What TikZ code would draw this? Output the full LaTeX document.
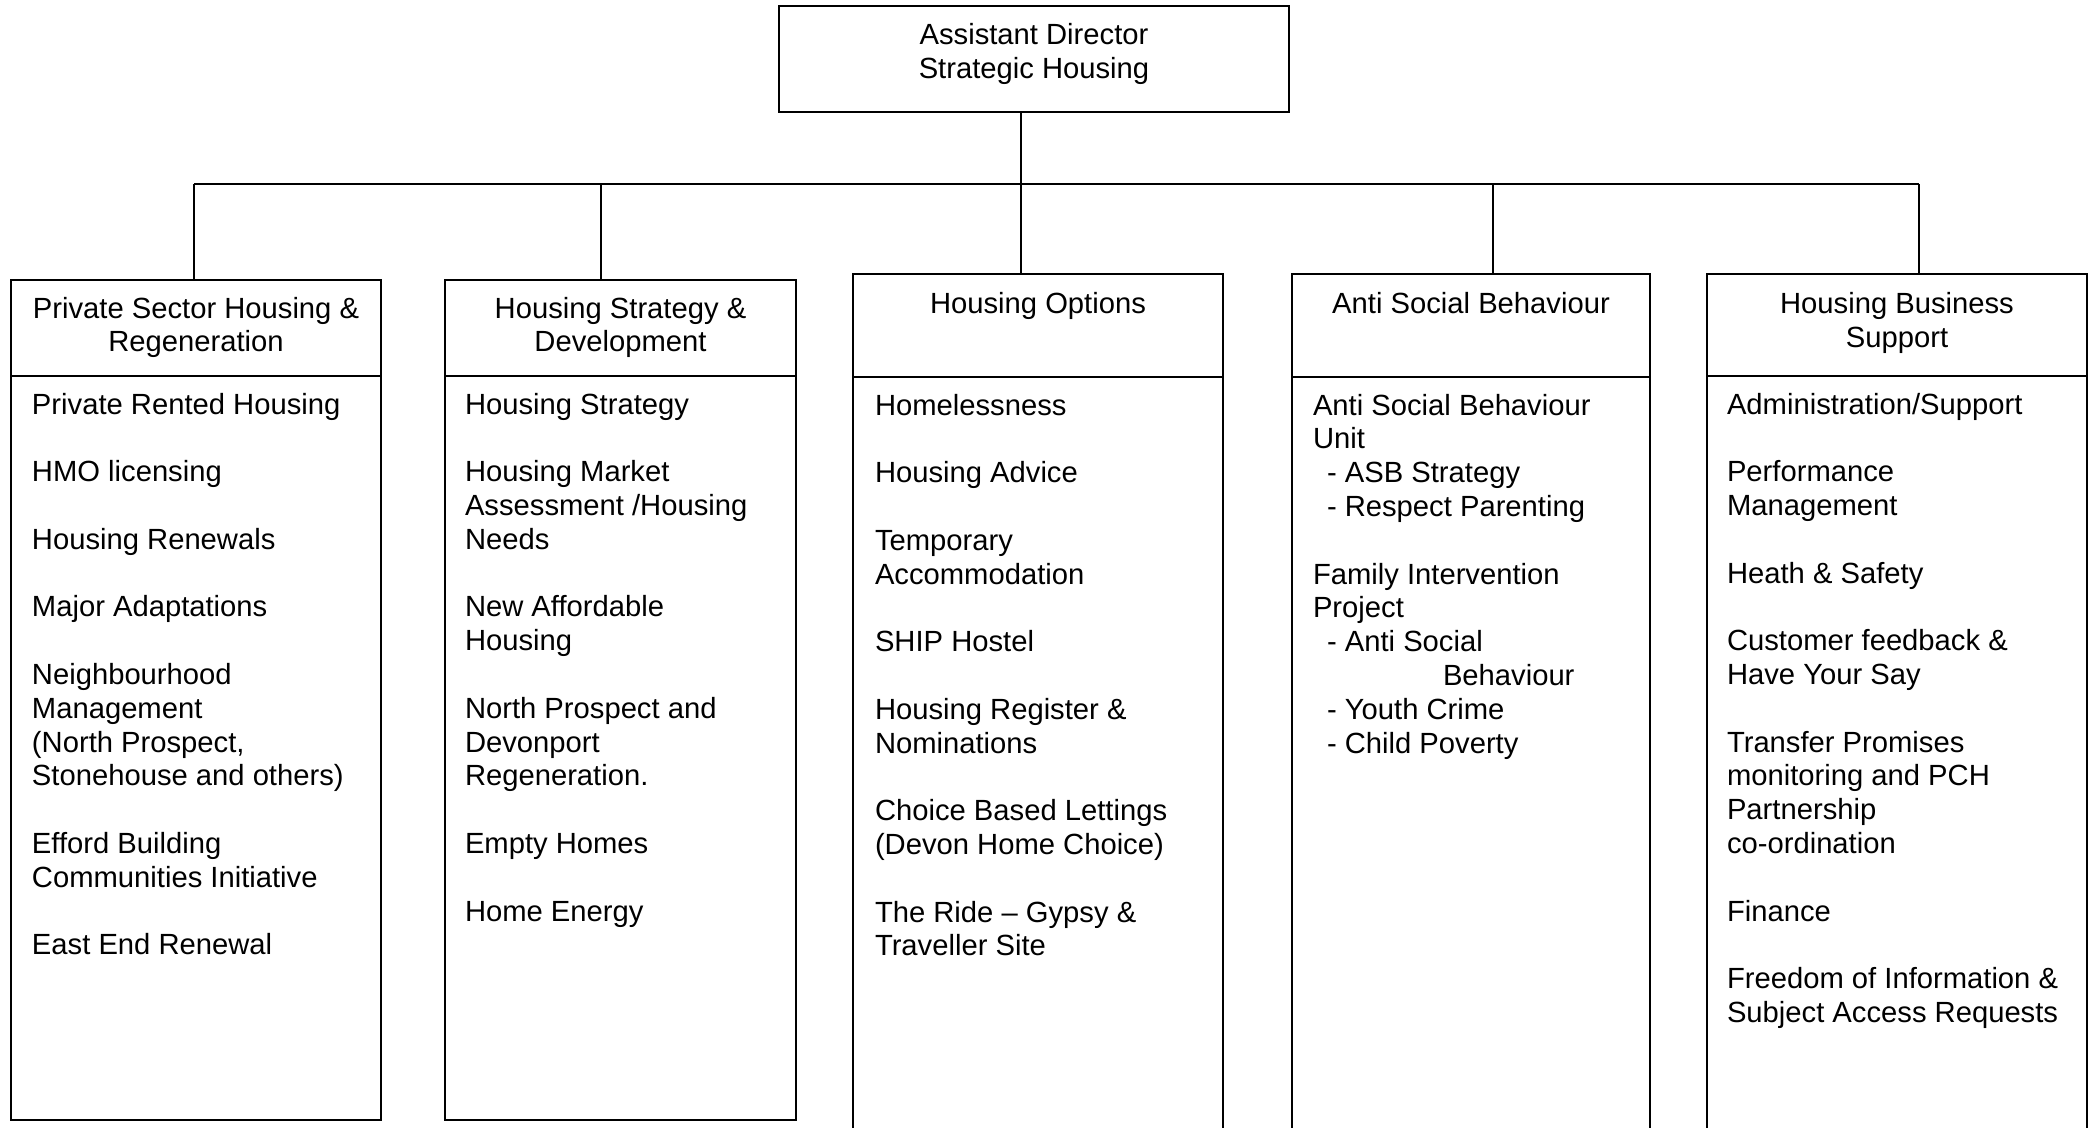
\documentclass[tikz,border=0pt]{standalone}
\usepackage{fontspec}
\setmainfont{Liberation Sans}
\usepackage{tikz}
\usetikzlibrary{positioning}
\newcommand{\gapline}{\\[16.9pt]}
\newcommand{\ind}{\hspace*{7pt}}

\begin{document}
\begin{tikzpicture}[x=0.5pt, y=-0.5pt,
    every node/.style={inner sep=0pt, outer sep=0pt},
    txt/.style={font=\fontsize{14.6}{16.9}\selectfont},
    boxed/.style={draw, line width=1pt, anchor=north},
    title/.style={txt, align=center, anchor=north},
    items/.style={txt, align=left, anchor=north west},
    link/.style={line width=0.7pt}]
  \useasboundingbox (0,0) rectangle (2094,1128);

  % top box
  \node[boxed, minimum width=255pt, minimum height=53pt] (director) at (1034,6) {};
  \node[title, below=8.75pt of director.north] (dirtext) {Assistant Director\\Strategic Housing};

  % header boxes
  \node[boxed, minimum width=185pt, minimum height=48pt] (hd1) at (196,280) {};
  \node[boxed, minimum width=175.5pt, minimum height=48pt] (hd2) at (620.5,280) {};
  \node[boxed, minimum width=185pt, minimum height=51.5pt] (hd3) at (1038,274) {};
  \node[boxed, minimum width=179pt, minimum height=51.5pt] (hd4) at (1471,274) {};
  \node[boxed, minimum width=190pt, minimum height=51pt] (hd5) at (1897,274) {};

  \node[title, below=8.5pt of hd1.north] (ti1) {Private Sector Housing \&\\Regeneration};
  \node[title, below=8.5pt of hd2.north] (ti2) {Housing Strategy \&\\Development};
  \node[title, below=9.25pt of hd3.north] (ti3) {Housing Options};
  \node[title, below=9.25pt of hd4.north] (ti4) {Anti Social Behaviour};
  \node[title, below=9.25pt of hd5.north] (ti5) {Housing Business\\Support};

  % body boxes (the last three run off the page)
  \node[boxed, minimum width=185pt, minimum height=372pt] (body1) at (hd1.south) {};
  \node[boxed, minimum width=175.5pt, minimum height=372pt] (body2) at (hd2.south) {};
  \node[boxed, minimum width=185pt, minimum height=390pt] (body3) at (hd3.south) {};
  \node[boxed, minimum width=179pt, minimum height=390pt] (body4) at (hd4.south) {};
  \node[boxed, minimum width=190pt, minimum height=390pt] (body5) at (hd5.south) {};

  \node[items, below right=8.5pt and 10.5pt of body1.north west] (list1) {%
    Private Rented Housing\gapline
    HMO licensing\gapline
    Housing Renewals\gapline
    Major Adaptations\gapline
    Neighbourhood\\Management\\(North Prospect,\\Stonehouse and others)\gapline
    Efford Building\\Communities Initiative\gapline
    East End Renewal};
  \node[items, below right=8.5pt and 10pt of body2.north west] (list2) {%
    Housing Strategy\gapline
    Housing Market\\Assessment /Housing\\Needs\gapline
    New Affordable\\Housing\gapline
    North Prospect and\\Devonport\\Regeneration.\gapline
    Empty Homes\gapline
    Home Energy};
  \node[items, below right=8.5pt and 11pt of body3.north west] (list3) {%
    Homelessness\gapline
    Housing Advice\gapline
    Temporary\\Accommodation\gapline
    SHIP Hostel\gapline
    Housing Register \&\\Nominations\gapline
    Choice Based Lettings\\(Devon Home Choice)\gapline
    The Ride -- Gypsy \&\\Traveller Site};
  \node[items, below right=8.5pt and 10.5pt of body4.north west] (list4) {%
    Anti Social Behaviour\\Unit\\
    \ind- ASB Strategy\\
    \ind- Respect Parenting\gapline
    Family Intervention\\Project\\
    \ind- Anti Social\\
    \hspace*{65pt}Behaviour\\
    \ind- Youth Crime\\
    \ind- Child Poverty};
  \node[items, below right=8.5pt and 10pt of body5.north west] (list5) {%
    Administration/Support\gapline
    Performance\\Management\gapline
    Heath \& Safety\gapline
    Customer feedback \&\\Have Your Say\gapline
    Transfer Promises\\monitoring and PCH\\Partnership\\co-ordination\gapline
    Finance\gapline
    Freedom of Information \&\\Subject Access Requests};

  % connectors
  \coordinate (b1) at (194,184);
  \coordinate (b2) at (601,184);
  \coordinate (b3) at (1021,184);
  \coordinate (b4) at (1493,184);
  \coordinate (b5) at (1919,184);
  \draw[link] (director.south -| b3) -- (b3);
  \draw[link] (b1) -- (b5);
  \foreach \i in {1,...,5}
    \draw[link] (b\i) -- (b\i |- hd\i.north);
\end{tikzpicture}
\end{document}
